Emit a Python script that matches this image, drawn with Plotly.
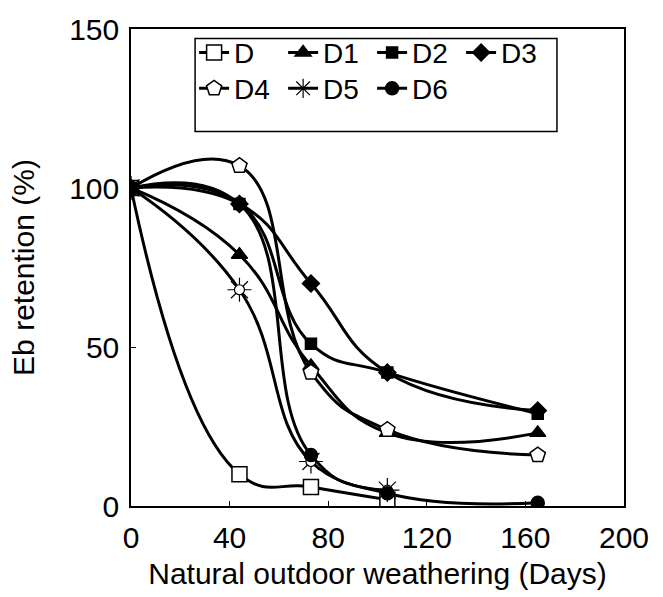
import plotly.graph_objects as go

days = [0, 44, 73, 104, 165]
D  = [100, 10, 6, 2]
D1 = [100, 79, 44, 23, 23]
D2 = [100, 95, 51, 42, 29]
D3 = [100, 95, 70, 42, 30]
D4 = [100, 107, 42, 24, 16]
D5 = [100, 68, 14, 5]
D6 = [100, 95, 16, 4, 1]

FONT = "Liberation Sans, Arial, sans-serif"
LW = 3
SM = 1.3

fig = go.Figure()

def add(name, y, symbol, size, fill, legend, show=True, mode="lines+markers", lw=LW, mlw=1.5):
    fig.add_trace(go.Scatter(
        x=days[:len(y)], y=y, name=name, mode=mode,
        line=dict(color="black", width=lw, shape="spline", smoothing=SM),
        marker=dict(symbol=symbol, size=size, color=fill,
                    line=dict(color="black", width=mlw)),
        legend=legend, showlegend=show,
    ))

add("D", D, "square", 15, "white", "legend")
add("D1", D1, "triangle-up", 14, "black", "legend")
add("D2", D2, "square", 11, "black", "legend")
add("D3", D3, "diamond", 13, "black", "legend")
add("D4", D4, "pentagon", 16, "white", "legend2")
add("D5", D5, "asterisk-open", 20, "black", "legend2", mlw=1.2)
add("D5", D5, "circle", 10, "white", "legend2", show=False, mode="markers", mlw=1.2)
add("D6", D6, "circle", 13, "black", "legend2")

leg_common = dict(orientation="h", xanchor="left", yanchor="middle",
                  font=dict(family=FONT, size=28, color="black"),
                  bgcolor="rgba(0,0,0,0)", borderwidth=0,
                  entrywidth=44, entrywidthmode="pixels", itemwidth=30,
                  traceorder="normal")

fig.update_layout(
    width=663, height=597,
    margin=dict(l=131, r=39, t=20, b=88),
    paper_bgcolor="white", plot_bgcolor="white",
    font=dict(family=FONT, size=30, color="black"),
    legend=dict(x=0.128, y=0.95, **leg_common),
    legend2=dict(x=0.128, y=0.875, **leg_common),
    xaxis=dict(range=[0, 200], tickvals=[0, 40, 80, 120, 160, 200],
               showgrid=False, zeroline=False, showline=True, linecolor="black",
               linewidth=1.5, mirror=True, ticks="inside", ticklen=5,
               tickcolor="black", tickfont=dict(size=30), ticklabelstandoff=4,
               title=dict(text="Natural outdoor weathering (Days)",
                          font=dict(size=30), standoff=10)),
    yaxis=dict(range=[0, 150], tickvals=[0, 50, 100, 150],
               showgrid=False, zeroline=False, showline=True, linecolor="black",
               linewidth=1.5, mirror=True, ticks="inside", ticklen=5,
               tickcolor="black", tickfont=dict(size=30), ticklabelstandoff=4,
               title=dict(text="Eb retention (%)", font=dict(size=30), standoff=26)),
    shapes=[dict(type="rect", xref="paper", yref="paper",
                 x0=0.13, x1=0.864, y0=0.785, y1=0.98,
                 line=dict(color="black", width=1.5), fillcolor="rgba(0,0,0,0)")],
)

fig.write_html("out.html", post_script="document.body.style.margin='0px';",
               config={"displayModeBar": False})
